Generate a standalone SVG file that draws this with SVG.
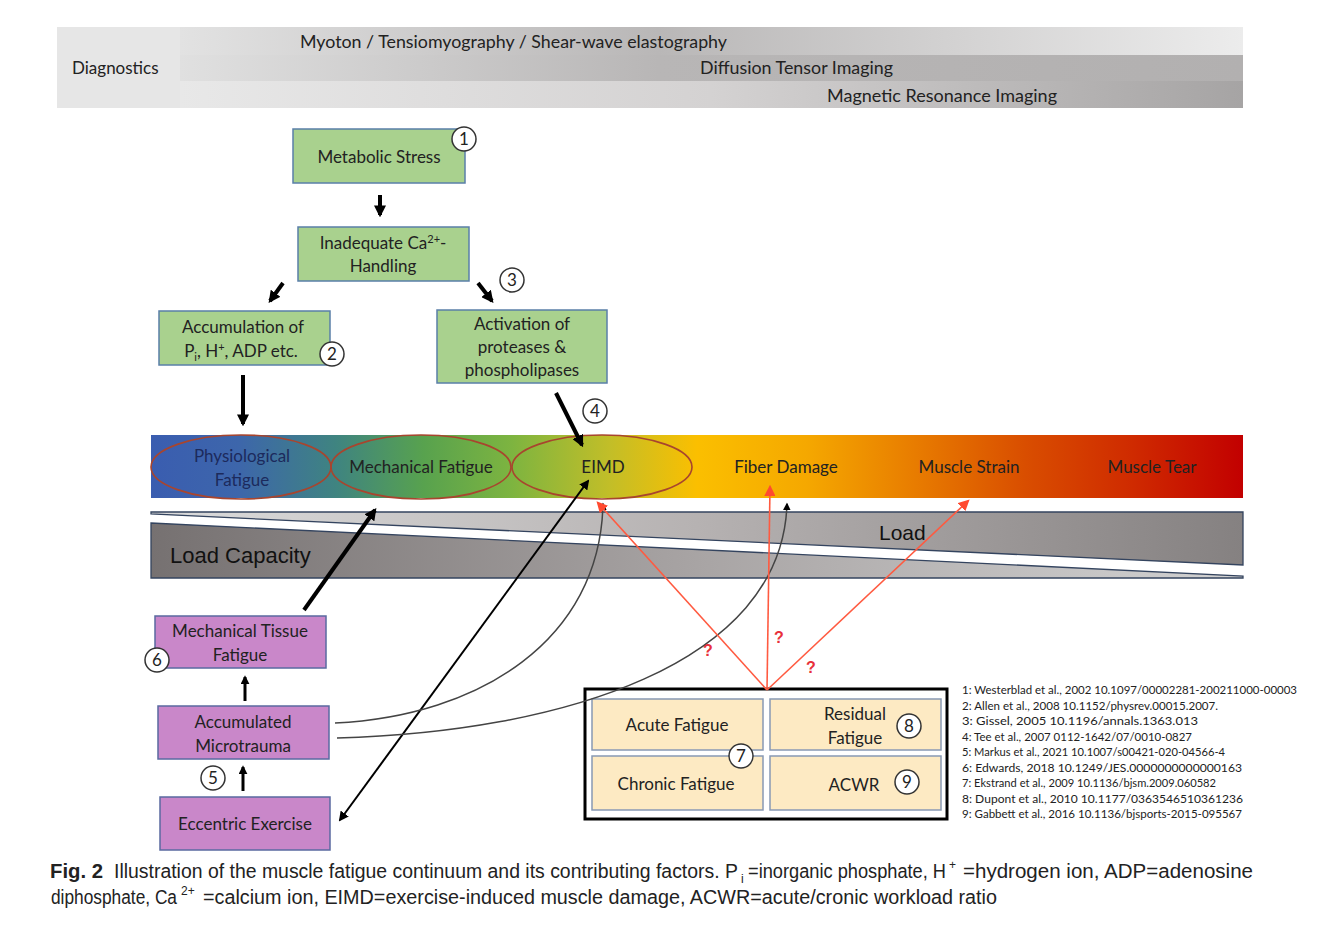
<svg xmlns="http://www.w3.org/2000/svg" width="1322" height="930" viewBox="0 0 1322 930">
<defs>
<linearGradient id="g1" x1="0" y1="0" x2="1" y2="0">
<stop offset="0" stop-color="#e2e2e2"/><stop offset="0.45" stop-color="#b9b7b7"/><stop offset="1" stop-color="#ececec"/>
</linearGradient>
<linearGradient id="g2" x1="0" y1="0" x2="1" y2="0">
<stop offset="0" stop-color="#e0e0e0"/><stop offset="0.45" stop-color="#b8b6b6"/><stop offset="1" stop-color="#b2b0b0"/>
</linearGradient>
<linearGradient id="g3" x1="0" y1="0" x2="1" y2="0">
<stop offset="0" stop-color="#e8e8e8"/><stop offset="0.5" stop-color="#d4d2d2"/><stop offset="1" stop-color="#a6a4a4"/>
</linearGradient>
<linearGradient id="spec" x1="0" y1="0" x2="1" y2="0">
<stop offset="0" stop-color="#3a5db0"/>
<stop offset="0.08" stop-color="#3d66ab"/>
<stop offset="0.17" stop-color="#3f8480"/>
<stop offset="0.25" stop-color="#58a24e"/>
<stop offset="0.33" stop-color="#7db440"/>
<stop offset="0.42" stop-color="#c2be28"/>
<stop offset="0.5" stop-color="#fbbf00"/>
<stop offset="0.6" stop-color="#f5a800"/>
<stop offset="0.7" stop-color="#e87c00"/>
<stop offset="0.8" stop-color="#d94e00"/>
<stop offset="0.9" stop-color="#cf2a00"/>
<stop offset="1" stop-color="#c20000"/>
</linearGradient>
<linearGradient id="gLoad" x1="0" y1="0" x2="1" y2="0">
<stop offset="0" stop-color="#dcdcdc"/><stop offset="0.5" stop-color="#b6b2b2"/><stop offset="1" stop-color="#858181"/>
</linearGradient>
<linearGradient id="gCap" x1="0" y1="0" x2="1" y2="0">
<stop offset="0" stop-color="#767171"/><stop offset="0.5" stop-color="#a8a4a4"/><stop offset="1" stop-color="#d2d2d2"/>
</linearGradient>
<marker id="ah" viewBox="0 0 10 10" refX="8" refY="5" markerWidth="3" markerHeight="3" orient="auto-start-reverse" markerUnits="strokeWidth">
<path d="M0,0 L10,5 L0,10 z" fill="#000"/>
</marker>
<marker id="ahThin" viewBox="0 0 10 10" refX="8" refY="5" markerWidth="5" markerHeight="5" orient="auto-start-reverse" markerUnits="strokeWidth">
<path d="M0,0 L10,5 L0,10 z" fill="#000"/>
</marker>
<marker id="ahRed" viewBox="0 0 10 10" refX="8" refY="5" markerWidth="7" markerHeight="7" orient="auto" markerUnits="strokeWidth">
<path d="M0,0 L10,5 L0,10 z" fill="#ff4a30"/>
</marker>
</defs>
<style>
.t{font-family:Lato,"Open Sans","Liberation Sans",sans-serif;font-size:17px;fill:#222;text-anchor:middle}
.tl{font-family:Lato,"Open Sans","Liberation Sans",sans-serif;font-size:17px;fill:#222}
.arial{font-family:"Liberation Sans",Arial,sans-serif;fill:#111}
.green{fill:#a9d18e;stroke:#5a7fa8;stroke-width:1.5}
.purple{fill:#c987c9;stroke:#5a6aa0;stroke-width:1.5}
.cell{fill:#fdeac3;stroke:#8899b4;stroke-width:1.5}
.num circle{fill:#fff;stroke:#333;stroke-width:1.5}
.num text{font-family:Lato,"Open Sans","Liberation Sans",sans-serif;font-size:17px;fill:#222;text-anchor:middle}
.ell{fill:none;stroke:#a8452e;stroke-width:1.6}
.ref{font-family:Lato,"Open Sans","Liberation Sans",sans-serif;font-size:11.5px;fill:#222}
.cap{font-family:"Liberation Sans",Arial,sans-serif;font-size:20px;fill:#222}
.s{font-size:12px}
.thick{stroke:#000;stroke-width:4;fill:none;marker-end:url(#ah)}
.thin{stroke:#000;stroke-width:2;fill:none;marker-end:url(#ahThin)}
.curve{stroke:#444;stroke-width:1.5;fill:none;marker-end:url(#ahThin)}
.red{stroke:#ff5a40;stroke-width:1.6;fill:none;marker-end:url(#ahRed)}
.q{font-family:"Liberation Sans",Arial,sans-serif;font-size:16px;fill:#e8303a;font-weight:bold;text-anchor:middle}
</style>
<rect width="1322" height="930" fill="#fff"/>

<g id="diagnostics">
<rect x="57" y="27" width="1186" height="81" fill="#e6e6e6"/>
<rect x="180" y="27" width="1063" height="28" fill="url(#g1)"/>
<rect x="180" y="55" width="1063" height="26" fill="url(#g2)"/>
<rect x="180" y="81" width="1063" height="27" fill="url(#g3)"/>
<text class="tl" x="72" y="74">Diagnostics</text>
<text class="tl" x="300" y="48" textLength="427" lengthAdjust="spacingAndGlyphs">Myoton / Tensiomyography / Shear-wave elastography</text>
<text class="tl" x="700" y="74" textLength="193" lengthAdjust="spacingAndGlyphs">Diffusion Tensor Imaging</text>
<text class="tl" x="827" y="102" textLength="230" lengthAdjust="spacingAndGlyphs">Magnetic Resonance Imaging</text>
</g>

<g id="spectrum">
<rect x="151" y="435" width="1092" height="63" fill="url(#spec)"/>
<ellipse class="ell" cx="241" cy="467" rx="90" ry="32"/>
<ellipse class="ell" cx="421" cy="467" rx="90" ry="32"/>
<ellipse class="ell" cx="602" cy="467" rx="90" ry="32"/>
</g>
<g id="node-physiological"><text class="t" x="242" y="462" style="fill:#1c2a5c">Physiological</text><text class="t" x="242" y="486" style="fill:#1c2a5c">Fatigue</text></g>
<g id="node-mechanical-fatigue"><text class="t" x="421" y="473">Mechanical Fatigue</text></g>
<g id="node-eimd"><text class="t" x="603" y="473">EIMD</text></g>
<g id="node-fiber-damage"><text class="t" x="786" y="473">Fiber Damage</text></g>
<g id="node-muscle-strain"><text class="t" x="969" y="473">Muscle Strain</text></g>
<g id="node-muscle-tear"><text class="t" x="1152" y="473">Muscle Tear</text></g>

<g id="load">
<polygon points="151,512 1243,512 1243,565 151,514" fill="url(#gLoad)" stroke="#34445f" stroke-width="1.3"/>
<polygon points="151,523 1243,576 1243,578 151,578" fill="url(#gCap)" stroke="#34445f" stroke-width="1.3"/>
<text class="arial" x="879" y="540" font-size="21">Load</text>
<text class="arial" x="170" y="563" font-size="22">Load Capacity</text>
</g>

<g id="node-metabolic"><rect class="green" x="293" y="129" width="172" height="54"/><text class="t" x="379" y="163">Metabolic Stress</text></g>
<g id="node-inadequate"><rect class="green" x="298" y="227" width="171" height="54"/>
<text class="t" x="383" y="249">Inadequate Ca<tspan font-size="11" dy="-6">2+</tspan><tspan dy="6">-</tspan></text>
<text class="t" x="383" y="272">Handling</text></g>
<g id="node-accumulation"><rect class="green" x="159" y="311" width="171" height="54"/>
<text class="t" x="243" y="333">Accumulation of</text>
<text class="t" x="241" y="357">P<tspan font-size="11" dy="4">i</tspan><tspan dy="-4">, H</tspan><tspan font-size="11" dy="-6">+</tspan><tspan dy="6">, ADP etc.</tspan></text></g>
<g id="node-activation"><rect class="green" x="437" y="310" width="170" height="73"/>
<text class="t" x="522" y="330">Activation of</text>
<text class="t" x="522" y="353">proteases &amp;</text>
<text class="t" x="522" y="376">phospholipases</text></g>

<g id="node-mtf"><rect class="purple" x="155" y="616" width="171" height="52"/>
<text class="t" x="240" y="637">Mechanical Tissue</text><text class="t" x="240" y="661">Fatigue</text></g>
<g id="node-microtrauma"><rect class="purple" x="158" y="706" width="171" height="53"/>
<text class="t" x="243" y="728">Accumulated</text><text class="t" x="243" y="752">Microtrauma</text></g>
<g id="node-eccentric"><rect class="purple" x="160" y="797" width="170" height="53"/>
<text class="t" x="245" y="830">Eccentric Exercise</text></g>

<g id="node-fatigue-box">
<rect x="585" y="689" width="362" height="130" fill="#fff" stroke="#000" stroke-width="3"/>
<rect class="cell" x="592" y="699" width="171" height="51"/>
<rect class="cell" x="770" y="699" width="171" height="51"/>
<rect class="cell" x="592" y="756" width="171" height="54"/>
<rect class="cell" x="770" y="756" width="171" height="54"/>
<text class="t" x="677" y="731">Acute Fatigue</text>
<text class="t" x="855" y="720">Residual</text>
<text class="t" x="855" y="744">Fatigue</text>
<text class="t" x="676" y="790">Chronic Fatigue</text>
<text class="t" x="854" y="791">ACWR</text>
</g>

<g id="connectors">
<line class="thick" x1="380" y1="195" x2="380" y2="215"/>
<line class="thick" x1="283" y1="283" x2="270" y2="301"/>
<line class="thick" x1="478" y1="283" x2="492" y2="301"/>
<line class="thick" x1="243" y1="375" x2="243" y2="424"/>
<line class="thick" x1="556" y1="393" x2="582" y2="445"/>
<line class="thick" x1="304" y1="610" x2="375" y2="510"/>
<line class="thick" style="stroke-width:3" x1="245" y1="701" x2="245" y2="677"/>
<line class="thick" style="stroke-width:3" x1="243" y1="791" x2="243" y2="767"/>
<line class="thin" style="marker-start:url(#ahThin)" x1="340" y1="820" x2="588" y2="481"/>
<path class="curve" d="M335,723 C480,716 600,640 603,504"/>
<path class="curve" d="M337,738 C560,732 782,665 787,504"/>
<line class="red" x1="767" y1="690" x2="598" y2="503"/>
<line class="red" x1="767" y1="690" x2="770" y2="487"/>
<line class="red" x1="767" y1="690" x2="968" y2="501"/>
<text class="q" x="708" y="656">?</text>
<text class="q" x="779" y="643">?</text>
<text class="q" x="811" y="673">?</text>
</g>

<g id="numbers" class="num">
<circle cx="464" cy="139" r="12"/><text x="464" y="145">1</text>
<circle cx="332" cy="354" r="12"/><text x="332" y="360">2</text>
<circle cx="512" cy="280" r="12"/><text x="512" y="286">3</text>
<circle cx="595" cy="411" r="12"/><text x="595" y="417">4</text>
<circle cx="213" cy="778" r="12"/><text x="213" y="784">5</text>
<circle cx="157" cy="660" r="12"/><text x="157" y="666">6</text>
<circle cx="741" cy="756" r="12"/><text x="741" y="762">7</text>
<circle cx="909" cy="726" r="12"/><text x="909" y="732">8</text>
<circle cx="907" cy="782" r="12"/><text x="907" y="788">9</text>
</g>

<g id="references">
<text class="ref" x="962" y="694" textLength="335" lengthAdjust="spacingAndGlyphs">1: Westerblad et al., 2002 10.1097/00002281-200211000-00003</text>
<text class="ref" x="962" y="709.5" textLength="256" lengthAdjust="spacingAndGlyphs">2: Allen et al., 2008 10.1152/physrev.00015.2007.</text>
<text class="ref" x="962" y="725" textLength="236" lengthAdjust="spacingAndGlyphs">3: Gissel, 2005 10.1196/annals.1363.013</text>
<text class="ref" x="962" y="740.5" textLength="230" lengthAdjust="spacingAndGlyphs">4: Tee et al., 2007 0112-1642/07/0010-0827</text>
<text class="ref" x="962" y="756" textLength="263" lengthAdjust="spacingAndGlyphs">5: Markus et al., 2021 10.1007/s00421-020-04566-4</text>
<text class="ref" x="962" y="771.5" textLength="280" lengthAdjust="spacingAndGlyphs">6: Edwards, 2018 10.1249/JES.0000000000000163</text>
<text class="ref" x="962" y="787" textLength="254" lengthAdjust="spacingAndGlyphs">7: Ekstrand et al., 2009 10.1136/bjsm.2009.060582</text>
<text class="ref" x="962" y="802.5" textLength="281" lengthAdjust="spacingAndGlyphs">8: Dupont et al., 2010 10.1177/0363546510361236</text>
<text class="ref" x="962" y="818" textLength="280" lengthAdjust="spacingAndGlyphs">9: Gabbett et al., 2016 10.1136/bjsports-2015-095567</text>
</g>

<g id="caption">
<text class="cap" y="878"><tspan x="50" font-weight="bold" textLength="53" lengthAdjust="spacingAndGlyphs">Fig. 2</tspan><tspan x="114" textLength="624" lengthAdjust="spacingAndGlyphs">Illustration of the muscle fatigue continuum and its contributing factors. P</tspan><tspan class="s" x="741" dy="5">i</tspan><tspan x="748" dy="-5" textLength="198" lengthAdjust="spacingAndGlyphs">=inorganic phosphate, H</tspan><tspan class="s" x="949" dy="-9">+</tspan><tspan x="963" dy="9" textLength="290" lengthAdjust="spacingAndGlyphs">=hydrogen ion, ADP=adenosine</tspan></text>
<text class="cap" y="904"><tspan x="51" textLength="126" lengthAdjust="spacingAndGlyphs">diphosphate, Ca</tspan><tspan class="s" x="181" dy="-9">2+</tspan><tspan x="203" dy="9" textLength="794" lengthAdjust="spacingAndGlyphs">=calcium ion, EIMD=exercise-induced muscle damage, ACWR=acute/cronic workload ratio</tspan></text>
</g>
</svg>
